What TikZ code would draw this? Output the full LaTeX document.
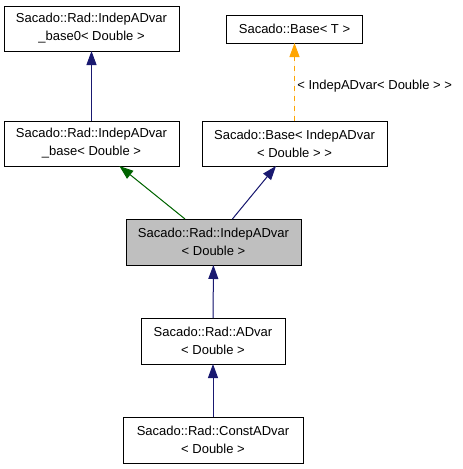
\documentclass[tikz,border=0pt]{standalone}
\usepackage{fontspec}
\setmainfont{Liberation Sans}
\usetikzlibrary{arrows.meta}
\definecolor{navyedge}{RGB}{25,25,112}
\definecolor{greenedge}{RGB}{0,100,0}
\definecolor{orangeedge}{RGB}{255,165,0}
\definecolor{grayfill}{RGB}{191,191,191}
\tikzset{
  cls/.style={draw=black, line width=1pt, fill=white, align=center, inner sep=0pt, outer sep=0pt,
    font=\fontsize{13}{18}\selectfont},
  hl/.style={cls, fill=grayfill},
  inh/.style={line width=1pt, -{Triangle[length=14pt,width=10pt]}},
}
\begin{document}
\begin{tikzpicture}[x=1pt,y=-1pt]
\useasboundingbox (0,0) rectangle (463,469);
\node[cls, minimum width=175pt, minimum height=45pt] (A) at (91.5,28.5) {Sacado::Rad::IndepADvar\\\_base0< Double >};
\node[cls, minimum width=136pt, minimum height=28pt] (B) at (294.5,29) {Sacado::Base< T >};
\node[cls, minimum width=175pt, minimum height=45pt] (C) at (91.5,143.5) {Sacado::Rad::IndepADvar\\\_base< Double >};
\node[cls, minimum width=185pt, minimum height=45pt] (D) at (294.5,143.5) {Sacado::Base< IndepADvar\\< Double > >};
\node[hl, minimum width=175pt, minimum height=46pt] (E) at (213.5,242) {Sacado::Rad::IndepADvar\\< Double >};
\node[cls, minimum width=144pt, minimum height=46pt] (F) at (213,341) {Sacado::Rad::ADvar\\< Double >};
\node[cls, minimum width=180pt, minimum height=46pt] (G) at (213,440) {Sacado::Rad::ConstADvar\\< Double >};

\draw[inh, draw=navyedge, fill=navyedge] (C) -- (A);
\draw[inh, draw=orangeedge, fill=orangeedge, dash pattern=on 5pt off 5pt] (D) -- node[right, font=\fontsize{13}{17}\selectfont, xshift=-1pt, yshift=-4pt] (lbl) {< IndepADvar< Double > >} (B);
\draw[inh, draw=greenedge, fill=greenedge] (E) -- (C);
\draw[inh, draw=navyedge, fill=navyedge] (E) -- (D);
\draw[inh, draw=navyedge, fill=navyedge] (F) -- (E);
\draw[inh, draw=navyedge, fill=navyedge] (G) -- (F);
\end{tikzpicture}
\end{document}
